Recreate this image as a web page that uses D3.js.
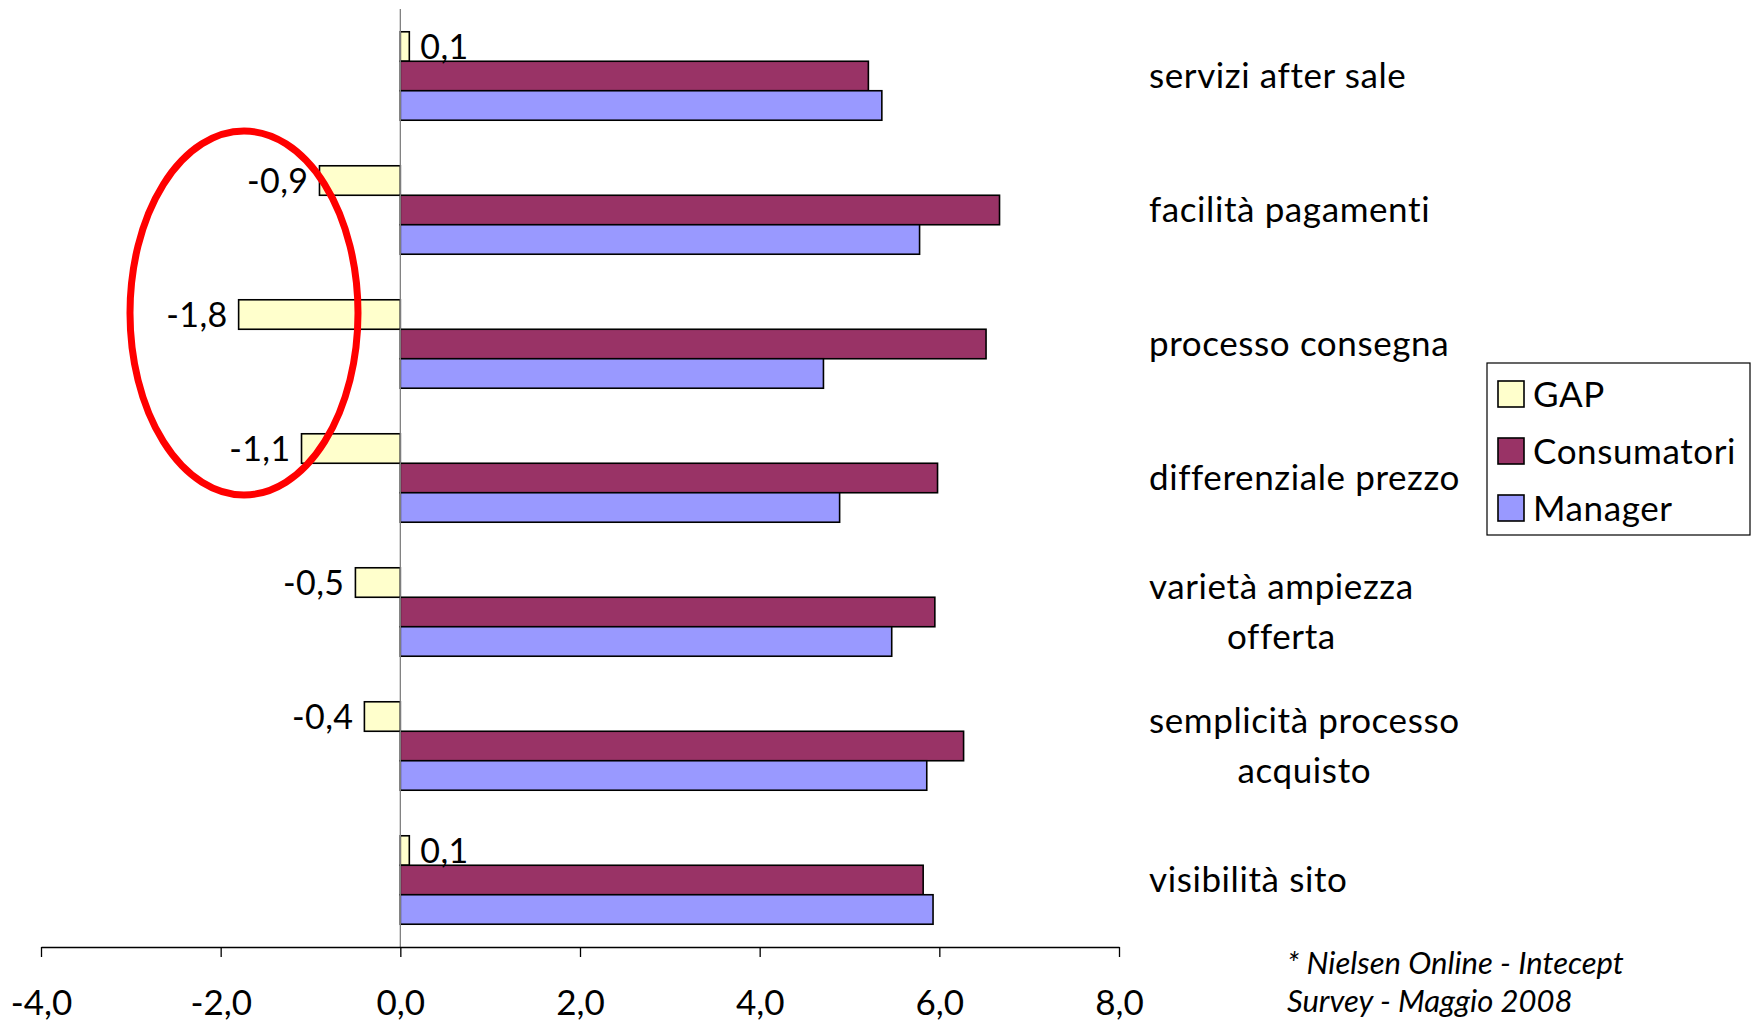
<!DOCTYPE html>
<html>
<head>
<meta charset="utf-8">
<script src="https://cdn.jsdelivr.net/npm/d3@7"></script>
<style>
  html, body { margin: 0; padding: 0; background: #fff; }
  svg { display: block; }
  text { font-family: Lato, "Open Sans", sans-serif; fill: #000; }
</style>
</head>
<body>
<svg id="chart" width="1752" height="1023"></svg>
<script>
// Categories, top to bottom, with line breaks for the wrapped labels
const categories = [
  ["servizi after sale"],
  ["facilità pagamenti"],
  ["processo consegna"],
  ["differenziale prezzo"],
  ["varietà ampiezza", "offerta"],
  ["semplicità processo", "acquisto"],
  ["visibilità sito"]
];
const seriesNames = ["GAP", "Consumatori", "Manager"];
const gap         = [0.1, -0.9, -1.8, -1.1, -0.5, -0.4, 0.1];
const consumatori = [5.21, 6.67, 6.52, 5.98, 5.95, 6.27, 5.82];
const manager     = [5.36, 5.78, 4.71, 4.89, 5.47, 5.86, 5.93];
const xTicks = [-4, -2, 0, 2, 4, 6, 8];
const sourceNote = ["* Nielsen Online - Intecept", "Survey - Maggio 2008"];

const colors = ["#FFFFCC", "#993366", "#9999FF"];
const seriesValues = [gap, consumatori, manager];

const svg = d3.select("#chart");
const itLocale = d3.formatLocale({ decimal: ",", thousands: ".", grouping: [3], currency: ["€", ""], minus: "-" });
const fmt = itLocale.format(".1f");

const plot = { left: 41, right: 1119, top: 9, bottom: 947 };

const x = d3.scaleLinear().domain([-4, 8]).range([plot.left, plot.right]);
const y = d3.scaleBand().domain(d3.range(categories.length))
  .range([plot.top, plot.bottom]).paddingInner(0.34).paddingOuter(0.17);
const ySeries = d3.scaleBand().domain(d3.range(seriesNames.length))
  .range([0, y.bandwidth()]);

// Bars
const groups = svg.append("g").selectAll("g")
  .data(categories)
  .join("g")
  .attr("transform", (d, i) => `translate(0,${y(i)})`);

groups.each(function (d, i) {
  const g = d3.select(this);
  seriesValues.forEach((vals, s) => {
    const v = vals[i];
    g.append("rect")
      .attr("x", x(Math.min(0, v)))
      .attr("y", ySeries(s))
      .attr("width", Math.abs(x(v) - x(0)))
      .attr("height", ySeries.bandwidth())
      .attr("fill", colors[s])
      .attr("stroke", "#000")
      .attr("stroke-width", 1.6);
  });
  // GAP value label
  const v = gap[i];
  g.append("text")
    .attr("x", v >= 0 ? x(v) + 11 : x(v) - 11)
    .attr("y", ySeries(0) + ySeries.bandwidth() / 2)
    .attr("dy", "0.36em")
    .attr("text-anchor", v >= 0 ? "start" : "end")
    .style("font-size", "34px")
    .style("letter-spacing", "0.4px")
    .text(fmt(v));
});

// Zero line
svg.append("line")
  .attr("x1", x(0)).attr("x2", x(0))
  .attr("y1", plot.top).attr("y2", plot.bottom)
  .attr("stroke", "#808080").attr("stroke-width", 1.3);

// X axis
const xAxis = d3.axisBottom(x).tickValues(xTicks).tickSize(10).tickSizeOuter(0).tickFormat(fmt);
const axG = svg.append("g").attr("transform", `translate(0,${plot.bottom})`).call(xAxis);
axG.select(".domain").attr("stroke", "#000").attr("stroke-width", 1.6);
axG.selectAll(".tick line").attr("stroke", "#000").attr("stroke-width", 1.3);
axG.selectAll(".tick text")
  .attr("y", 68)
  .attr("dy", 0)
  .style("font-size", "35px")
  .style("font-family", "Lato, sans-serif")
  .attr("fill", "#000");

// Category labels at the right, lines centred within each block
const labelLeft = 1149;
const lineGap = 50;
categories.forEach((lines, i) => {
  const cy = y(i) + y.bandwidth() / 2;
  const t = svg.append("text")
    .attr("text-anchor", "middle")
    .style("font-size", "35px")
    .style("letter-spacing", "0.6px");
  lines.forEach((ln, k) => {
    t.append("tspan")
      .attr("y", cy + (k - (lines.length - 1) / 2) * lineGap)
      .attr("dy", "0.34em")
      .text(ln);
  });
  const w = d3.max(t.selectAll("tspan").nodes(), n => n.getComputedTextLength());
  t.selectAll("tspan").attr("x", labelLeft + w / 2);
});

// Legend
const legend = svg.append("g");
legend.append("rect")
  .attr("x", 1487).attr("y", 363).attr("width", 263).attr("height", 172)
  .attr("fill", "#fff").attr("stroke", "#000").attr("stroke-width", 1.2);
const legendY = d3.scalePoint().domain(seriesNames).range([394, 508]);
seriesNames.forEach((name, s) => {
  legend.append("rect")
    .attr("x", 1498).attr("y", legendY(name) - 13)
    .attr("width", 26).attr("height", 26)
    .attr("fill", colors[s]).attr("stroke", "#000").attr("stroke-width", 1.6);
  legend.append("text")
    .attr("x", 1533).attr("y", legendY(name))
    .attr("dy", "0.36em")
    .style("font-size", "35px")
    .style("letter-spacing", "0.6px")
    .text(name);
});

// Highlight ellipse around the largest negative gaps
svg.append("ellipse")
  .attr("cx", 244).attr("cy", 313).attr("rx", 114).attr("ry", 182)
  .attr("fill", "none").attr("stroke", "#FF0000").attr("stroke-width", 7);

// Source note
const note = svg.append("text")
  .style("font-size", "31px").style("font-style", "italic");
sourceNote.forEach((ln, k) => {
  note.append("tspan").attr("x", 1287).attr("y", 963 + k * 38).attr("dy", "0.36em").text(ln);
});
</script>
</body>
</html>
